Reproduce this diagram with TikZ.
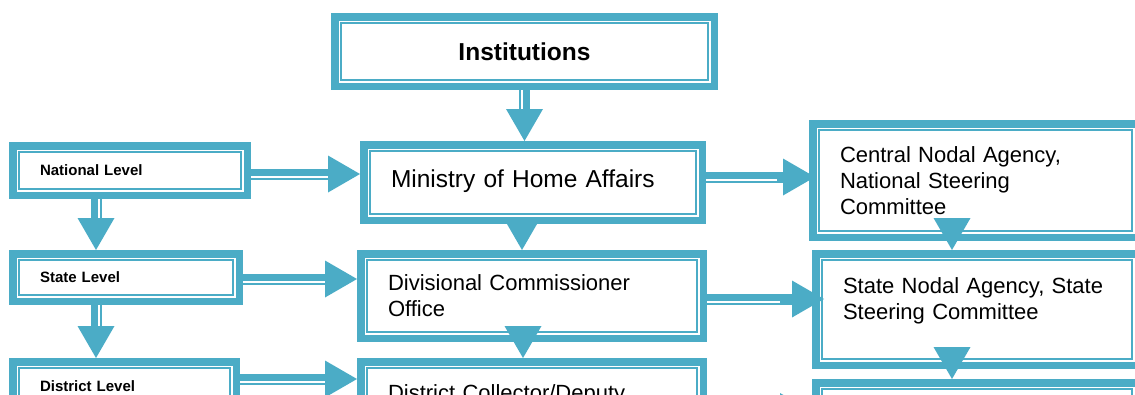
\documentclass[tikz,border=0pt]{standalone}
\usepackage{fontspec}
\setmainfont{Liberation Sans}
\usetikzlibrary{arrows.meta,backgrounds}
\definecolor{boxblue}{HTML}{4BACC6}

\begin{document}
\begin{tikzpicture}[x=1pt,y=-1pt,
    frame/.style={fill=white, draw=boxblue, line width=2pt,
        preaction={draw=boxblue, line width=20pt},
        preaction={draw=white, line width=5pt},
        anchor=north west, outer sep=10pt, inner xsep=21pt, inner ysep=0pt, align=left},
    lvl/.style={frame, font=\fontsize{15}{18}\selectfont\bfseries},
    txt/.style={frame, font=\fontsize{22}{26}\selectfont},
    hshaft/.style={draw=boxblue, line width=11pt, -{Triangle[length=32pt,width=37pt,line width=0pt]},
        postaction={draw=white, line width=2pt, -, shorten >=32pt, transform canvas={yshift=-2.5pt}}},
    vshaft/.style={draw=boxblue, line width=11pt, -{Triangle[length=32pt,width=37pt,line width=0pt]},
        postaction={draw=white, line width=2pt, -, shorten >=32pt, transform canvas={xshift=#1}}},
    vshaft/.default=2.5pt,
    headonly/.style={draw=boxblue, line width=0.1pt, -{Triangle[length=32pt,width=37pt,line width=0pt]}}]
    \useasboundingbox (0,0) rectangle (1135,394);
    \clip (0,0) rectangle (1135,394);

    % boxes
    \node[frame, font=\fontsize{24.5}{29}\selectfont\bfseries, align=center, text width=325pt, minimum height=57pt] (inst) at (331,13) {Institutions};

    \node[lvl, text width=180pt, minimum height=37pt] (natl) at (9,142) {National Level};
    \node[lvl, text width=172pt, minimum height=35pt] (state) at (9,250) {State Level};
    \node[lvl, text width=169pt, minimum height=37pt] (dist) at (9,358) {District Level};

    \node[frame, font=\fontsize{24.5}{29}\selectfont, text width=284pt, minimum height=63pt, text depth=8.5pt] (mha) at (360,141) {Ministry of Home Affairs};
    \node[txt, text width=288pt, minimum height=72pt] (div) at (357,250) {Divisional Commissioner\\Office};
    \node[txt, text width=288pt, minimum height=72pt, text depth=22pt] (dc) at (357,358) {District Collector/Deputy};

    \node[txt, text width=271pt, minimum height=101pt] (cna) at (809,120) {Central Nodal Agency,\\National Steering\\Committee};
    \node[txt, text width=268pt, minimum height=99pt, text depth=47pt] (sna) at (812,250) {State Nodal Agency, State\\Steering Committee};
    \node[txt, text width=268pt, minimum height=100pt] (rb) at (812,379) {};

    % arrows
    \draw[vshaft=-2.5pt] (inst.south) -- (inst.south |- mha.north);
    \draw[vshaft] ([xshift=-34pt]natl.south) -- ([xshift=-34pt]natl.south |- state.north);
    \draw[vshaft] ([xshift=-30pt]state.south) -- ([xshift=-30pt]state.south |- dist.north);

    \draw[hshaft] ([yshift=-3.5pt]natl.east) -- ([yshift=-3.5pt]natl.east -| mha.west);
    \draw[hshaft] ([yshift=-1.5pt]state.east) -- ([yshift=-1.5pt]state.east -| div.west);
    \draw[hshaft] ([yshift=7.5pt]dist.east) -- ([yshift=7.5pt]dist.east -| dc.west);
    \draw[hshaft, shorten >=-6pt] ([yshift=5.5pt]mha.east) -- ([yshift=5.5pt]mha.east -| cna.west);
    \draw[hshaft, shorten >=-12pt] ([yshift=-3pt]div.east) -- ([yshift=-3pt]div.east -| sna.west);
    \draw[hshaft] ([yshift=-7.5pt]dc.east) -- ([yshift=-7.5pt]dc.east -| rb.west);

    \begin{scope}[on background layer]
        \draw[headonly] ([xshift=-11pt]mha.south) -- ([xshift=-11pt]mha.south |- div.north);
    \end{scope}
    \draw[headonly] ([xshift=-9pt]div.south) -- ([xshift=-9pt]div.south |- dc.north);
    \draw[headonly] ([xshift=-23.5pt]cna.south) -- ([xshift=-23.5pt]cna.south |- sna.north);
    \draw[headonly] ([xshift=-25pt]sna.south) -- ([xshift=-25pt]sna.south |- rb.north);
\end{tikzpicture}
\end{document}
